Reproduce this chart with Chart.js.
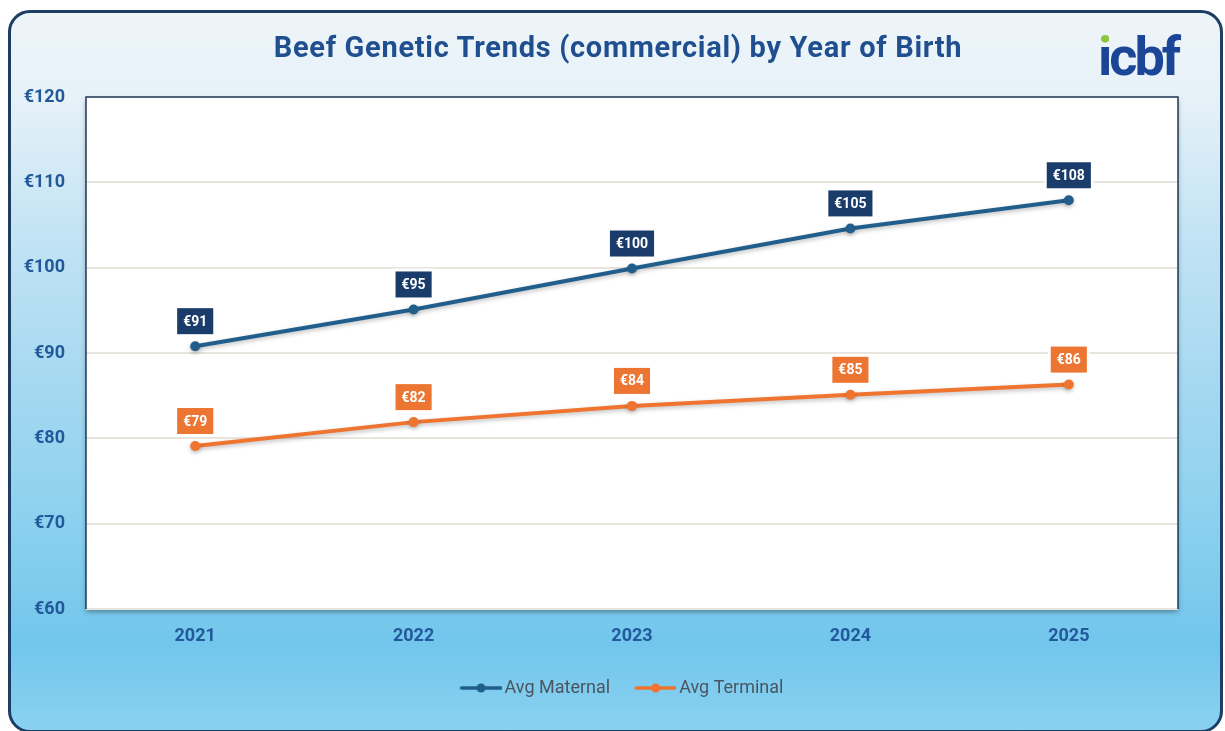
<!DOCTYPE html>
<html><head><meta charset="utf-8">
<script src="https://cdn.jsdelivr.net/npm/chart.js@4.4.1/dist/chart.umd.min.js"></script>
<style>
html,body{margin:0;padding:0;width:1225px;height:731px;overflow:hidden;background:#fff;}
#frame{position:absolute;left:8px;top:10px;width:1209px;height:717px;border:3px solid #1d3d63;border-radius:22px;
background:linear-gradient(to bottom,#eef5f9 0%,#e6f1f8 12%,#c4e4f4 30%,#a8d9f1 50%,#8ad0ee 72%,#72c6ec 88%,#8ad1f0 100%);}
#wrap{position:absolute;left:0;top:0;width:1225px;height:731px;}
#title{position:absolute;left:0;top:33px;width:1236px;text-align:center;font:bold 29px Roboto,sans-serif;line-height:29px;letter-spacing:0.7px;color:#1f4f8f;white-space:nowrap;}
#logo{position:absolute;left:1098px;top:30px;font:bold 54px Roboto,sans-serif;line-height:54px;letter-spacing:-3px;color:#1b4596;white-space:nowrap;}
#logo .i{background:linear-gradient(to bottom,#8cc63f 0,#8cc63f 28%,#1b4596 28%,#1b4596 100%);-webkit-background-clip:text;background-clip:text;color:transparent;}
</style></head>
<body>
<div id="frame"></div>
<div id="wrap"><canvas id="c" width="1225" height="731"></canvas></div>
<div id="title">Beef Genetic Trends (commercial) by Year of Birth</div>
<div id="logo"><span class="i">i</span>cbf</div>
<script>
const years = ['2021','2022','2023','2024','2025'];
const maternal = [90.8, 95.1, 99.9, 104.6, 107.9];
const terminal = [79.1, 81.9, 83.8, 85.1, 86.3];
const yMin = 60, yMax = 120, yStep = 10;
const seriesNames = ['Avg Maternal','Avg Terminal'];
const lineColors = ['#215e8c','#ef7430'];
const labelColors = ['#1a3c6a','#ec7532'];

function legendIcon(color){
  const c = document.createElement('canvas');
  c.width = 62; c.height = 12;
  const g = c.getContext('2d');
  g.strokeStyle = color; g.lineWidth = 3.5; g.lineCap='round';
  g.beginPath(); g.moveTo(22,6); g.lineTo(61,6); g.stroke();
  g.fillStyle = color; g.beginPath(); g.arc(41.5,6,4.5,0,Math.PI*2); g.fill();
  return c;
}

const plotBg = {
  id:'plotBg',
  afterLayout(chart){
    if (chart.legend) { chart.legend.left = 51; }
  },
  beforeDraw(chart){
    const {ctx, chartArea:a} = chart;
    ctx.save();
    ctx.shadowColor='rgba(0,0,0,0.35)'; ctx.shadowBlur=5; ctx.shadowOffsetY=3;
    ctx.fillStyle='#ffffff';
    ctx.fillRect(a.left, a.top, a.right-a.left, a.bottom-a.top);
    ctx.restore();
  },
  beforeDatasetsDraw(chart){
    const {ctx, chartArea:a} = chart;
    ctx.save();
    ctx.strokeStyle='#1e3a5a'; ctx.lineWidth=1.5;
    ctx.beginPath();
    ctx.moveTo(a.left, a.bottom); ctx.lineTo(a.left, a.top); ctx.lineTo(a.right, a.top); ctx.lineTo(a.right, a.bottom);
    ctx.stroke();
    ctx.restore();
    ctx.save();
    ctx.shadowColor='rgba(0,0,0,0.25)'; ctx.shadowBlur=4; ctx.shadowOffsetY=2;
  },
  afterDatasetsDraw(chart){
    const ctx = chart.ctx;
    ctx.restore();
    chart.data.datasets.forEach((ds,i)=>{
      const meta = chart.getDatasetMeta(i);
      meta.data.forEach((pt,j)=>{
        const txt = '€' + Math.round(ds.data[j]);
        ctx.save();
        ctx.font = 'bold 14px Roboto, sans-serif';
        const w = ctx.measureText(txt).width + 12, h = 26;
        const cx = pt.x, cy = pt.y - 25;
        ctx.fillStyle='rgba(255,255,255,0.85)';
        ctx.fillRect(cx-w/2-3, cy-h/2-3, w+6, h+6);
        ctx.fillStyle = labelColors[i];
        ctx.fillRect(cx-w/2, cy-h/2, w, h);
        ctx.fillStyle = '#ffffff';
        ctx.textAlign='center'; ctx.textBaseline='middle';
        ctx.fillText(txt, cx, cy+1);
        ctx.restore();
      });
    });
  }
};

new Chart(document.getElementById('c'), {
  type:'line',
  data:{
    labels: years,
    datasets:[
      {label: seriesNames[0], data: maternal, borderColor: lineColors[0], backgroundColor: lineColors[0],
       borderWidth:4, pointRadius:5, pointBorderWidth:0, pointBackgroundColor: lineColors[0], tension:0},
      {label: seriesNames[1], data: terminal, borderColor: lineColors[1], backgroundColor: lineColors[1],
       borderWidth:4, pointRadius:5, pointBorderWidth:0, pointBackgroundColor: lineColors[1], tension:0}
    ]
  },
  options:{
    responsive:true, maintainAspectRatio:false, animation:false,
    layout:{padding:{left:0, right:47, top:97, bottom:24}},
    scales:{
      x:{offset:true, grid:{display:false, drawTicks:false}, border:{display:false},
         ticks:{color:'#22599a', font:{family:'Roboto', weight:'bold', size:18}, padding:17},
         afterFit(s){ s.height = 60; }},
      y:{min:yMin, max:yMax, border:{display:false},
         grid:{color:'#e8e4de', lineWidth:2, drawTicks:false},
         ticks:{stepSize:yStep, color:'#22599a', font:{family:'Roboto', weight:'bold', size:18}, padding:21,
                callback:v=>'€'+v},
         afterFit(s){ s.width = 86; }}
    },
    plugins:{
      legend:{position:'bottom', labels:{usePointStyle:true, pointStyleWidth:50, padding:10,
        color:'#4a5560', font:{family:'Roboto', size:18},
        generateLabels(chart){
          return chart.data.datasets.map((ds,i)=>({text: ds.label, pointStyle: legendIcon(ds.borderColor),
            fillStyle: ds.borderColor, strokeStyle: ds.borderColor, lineWidth:0,
            hidden: !chart.isDatasetVisible(i), datasetIndex:i, fontColor:'#4a5560'}));
        }}},
      tooltip:{enabled:false}
    }
  },
  plugins:[plotBg]
});
</script>
</body></html>
